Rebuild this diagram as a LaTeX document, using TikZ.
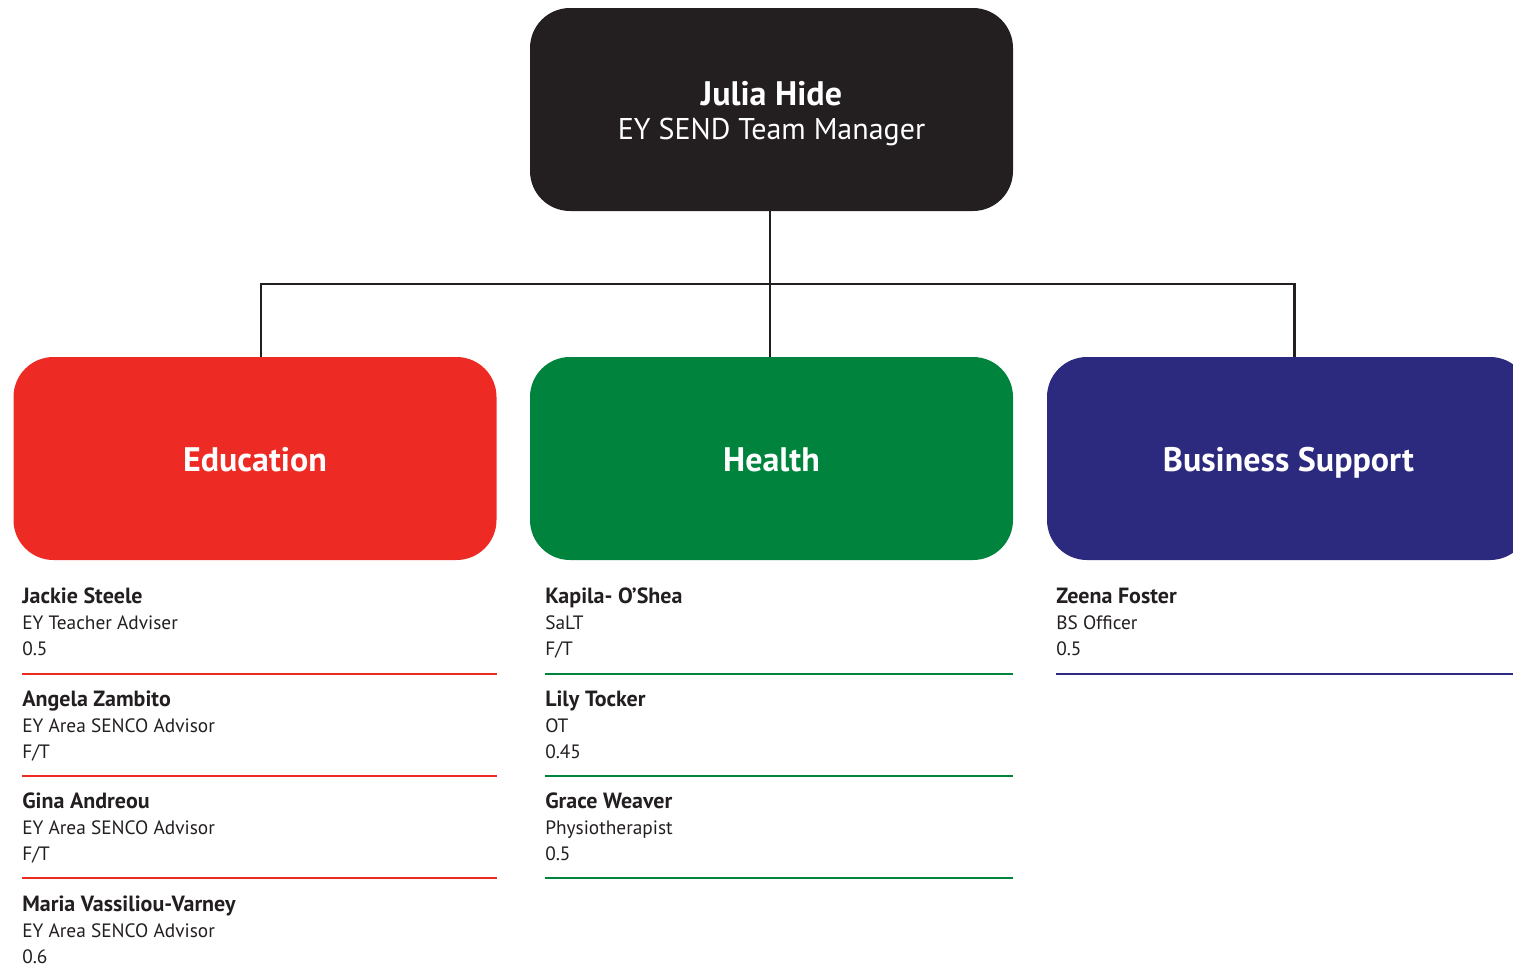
\documentclass[tikz,border=0pt]{standalone}
\usepackage{fontspec}
\setmainfont{PT Sans}
\usepackage{xcolor}

\definecolor{boxblack}{RGB}{35,31,32}
\definecolor{edured}{RGB}{238,42,36}
\definecolor{healthgreen}{RGB}{0,132,61}
\definecolor{bsblue}{RGB}{43,42,127}
\definecolor{textgrey}{RGB}{35,31,32}

\newcommand{\staffname}[1]{{\fontsize{16.5}{19.5}\selectfont\bfseries #1}}
\newcommand{\boxtitle}[1]{{\fontsize{25.5}{26}\selectfont\bfseries #1}}
\newcommand{\sunk}[2]{\raisebox{-#1}[0pt][0pt]{#2}}

\tikzset{
  teambox/.style={rounded corners=30pt, minimum width=362.25pt, minimum height=152.25pt, inner sep=0pt, align=center, text=white, font=\fontsize{22.5}{26}\selectfont},
  staff/.style={anchor=north west, inner sep=0pt, align=left, text=textgrey, font=\fontsize{14.5}{19.5}\selectfont},
  link/.style={draw=boxblack, line width=1.6pt},
  divider/.style={line width=2.2pt},
}

\begin{document}
\begin{tikzpicture}[x=0.75pt,y=0.75pt,yscale=-1,xscale=1]
\useasboundingbox (0,0) rectangle (1513,978);
\clip (0,0) rectangle (1513,978);

%Shape: Rounded Rect [id:manager]
\node [teambox, fill=boxblack] (manager) at (771.5,109.5) {\sunk{9.75pt}{\boxtitle{Julia Hide}}\\\sunk{9.75pt}{EY SEND Team Manager}};

%Shape: Rounded Rect [id:education]
\node [teambox, fill=edured] (education) at (255,458.5) {\sunk{10.1pt}{\boxtitle{Education}}};
%Shape: Rounded Rect [id:health]
\node [teambox, fill=healthgreen] (health) at (771.5,458.5) {\sunk{10.1pt}{\boxtitle{Health}}};
%Shape: Rounded Rect [id:business]
\node [teambox, fill=bsblue] (business) at (1288.5,458.5) {\sunk{10.1pt}{\boxtitle{Business Support}}};

%Straight Lines [id:links]
\coordinate (split) at (770,284);
\draw [link] (manager.south -| split) -- (health.north -| split);
\draw [link] (split) -| ([xshift=4.5pt]education.north);
\draw [link] (split) -| ([xshift=4.5pt]business.north);

% Text Node
\node [staff] (edu1) at (22,588) {\staffname{Jackie Steele}\\EY Teacher Adviser\\0.5};
% Text Node
\node [staff] (edu2) at (22,691) {\staffname{Angela Zambito}\\EY Area SENCO Advisor\\F/T};
% Text Node
\node [staff] (edu3) at (22,793) {\staffname{Gina Andreou}\\EY Area SENCO Advisor\\F/T};
% Text Node
\node [staff] (edu4) at (22,896) {\staffname{Maria Vassiliou-Varney}\\EY Area SENCO Advisor\\0.6};

% Text Node
\node [staff] (hea1) at (545,588) {\staffname{Kapila- O’Shea}\\SaLT\\F/T};
% Text Node
\node [staff] (hea2) at (545,691) {\staffname{Lily Tocker}\\OT\\0.45};
% Text Node
\node [staff] (hea3) at (545,793) {\staffname{Grace Weaver}\\Physiotherapist\\0.5};

% Text Node
\node [staff] (bus1) at (1056,588) {\staffname{Zeena Foster}\\BS Officer\\0.5};

%Straight Lines [id:dividers]
\foreach \y in {674,776,878} {
  \draw [divider, edured] (22,\y) -- (497,\y);
}
\foreach \y in {674,776,878} {
  \draw [divider, healthgreen] (545,\y) -- (1013,\y);
}
\draw [divider, bsblue] (1056,674) -- (1513,674);

\end{tikzpicture}
\end{document}
